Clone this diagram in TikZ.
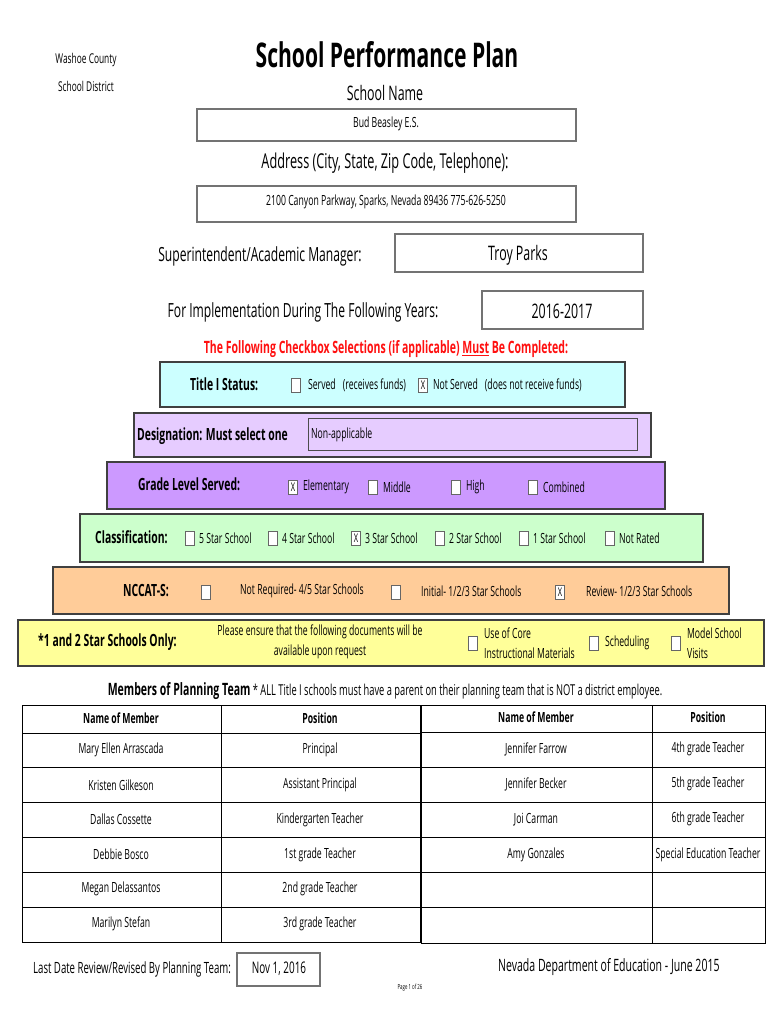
\documentclass[tikz,border=0pt]{standalone}
\usepackage{fontspec}
\setmainfont[FakeStretch=0.62]{Open Sans}
\usetikzlibrary{positioning}

\definecolor{bandcyan}{HTML}{CCFFFF}
\definecolor{bandlilac}{HTML}{E6CCFF}
\definecolor{bandpurple}{HTML}{CC99FF}
\definecolor{bandgreen}{HTML}{CCFFCC}
\definecolor{bandorange}{HTML}{FFCC99}
\definecolor{bandyellow}{HTML}{FFFF99}
\definecolor{formred}{HTML}{FF1010}

\newcommand{\fs}[1]{\fontsize{#1}{#1}\selectfont}

\tikzset{
  band/.style={draw=black!75, line width=1.3pt},
  field/.style={draw=black!55, line width=1.3pt, fill=white},
  chk/.style={draw=black!60, line width=0.8pt, fill=white, minimum width=9pt,
    minimum height=14pt, inner sep=0pt, font=\fs{12}},
  txt/.style={inner sep=0pt, font=\fs{14}},
  opt/.style={inner sep=0pt, anchor=west, font=\fs{14}},
  head/.style={inner sep=0pt, anchor=west, font=\bfseries\fs{16.8}},
  cell/.style={inner sep=0pt, font=\fs{14}},
  hcell/.style={inner sep=0pt, font=\bfseries\fs{14}},
  grid/.style={draw=black, line width=1pt}
}

\begin{document}
\begin{tikzpicture}[x=1pt, y=-1pt]
\useasboundingbox[fill=white] (0,0) rectangle (770,1024);

% heading
\node[txt, font=\fs{13.5}] (district1) at (86,60) {Washoe County};
\node[txt, font=\fs{13.5}] (district2) at (86,86) {School District};
\node[txt, font=\bfseries\fs{34}] (title) at (387,55) {School Performance Plan};
\node[txt, font=\fs{20}] (schoollbl) at (385,93) {School Name};
\draw[field] (197,109) rectangle (576,141);
\node[txt] (school) at (386,124) {Bud Beasley E.S.};
\node[txt, font=\fs{20.5}] (addrlbl) at (385,163) {Address (City, State, Zip Code, Telephone):};
\draw[field] (197,186) rectangle (576,222);
\node[txt] (addr) at (386,202) {2100 Canyon Parkway, Sparks, Nevada 89436 775-626-5250};
\node[txt, font=\fs{19.5}] (suplbl) at (260,256) {Superintendent/Academic Manager:};
\draw[field] (395,234) rectangle (643,272);
\node[txt, font=\fs{20}] (sup) at (518,255) {Troy Parks};
\node[txt, font=\fs{19.5}] (yearlbl) at (303,312) {For Implementation During The Following Years:};
\draw[field] (482,291) rectangle (643,329);
\node[txt, font=\fs{20}] (year) at (562,311) {2016-2017};
\node[txt, font=\bfseries\fs{17}, text=formred] (note) at (386,349)
  {The Following Checkbox Selections (if applicable) \underline{Must} Be Completed:};

% title I
\draw[band, fill=bandcyan] (160,362) rectangle (625,407);
\node[head] (titlei) at (190,384) {Title I Status:};
\node[chk] (ti1) at (296,385) {};
\node[opt, right=7pt of ti1] {Served\enspace(receives funds)};
\node[chk] (ti2) at (423,385) {X};
\node[opt, right=5pt of ti2] {Not Served\enspace(does not receive funds)};

% designation
\draw[band, fill=bandlilac] (134,413) rectangle (651,457);
\node[head] (desig) at (137,436) {Designation: Must select one};
\draw[draw=black!70, line width=1pt, fill=bandlilac] (308,418) rectangle (637,450);
\node[opt] (desigval) at (311,435) {Non-applicable};

% grade level
\draw[band, fill=bandpurple] (107,462) rectangle (665,509);
\node[head] (grade) at (138,484) {Grade Level Served:};
\foreach \gx/\gm/\gt in {293/X/Elementary, 373//Middle, 456//High, 533//Combined}{
  \node[chk] (g\gx) at (\gx,487) {\gm};
  \node[opt, right=5pt of g\gx] {\gt};
}

% classification
\draw[band, fill=bandgreen] (80,514) rectangle (703,562);
\node[head] (classif) at (95,537) {Classification:};
\foreach \cx/\cm/\ct in {190//5 Star School, 273//4 Star School, 356/X/3 Star School,
    440//2 Star School, 524//1 Star School, 610//Not Rated}{
  \node[chk] (c\cx) at (\cx,538) {\cm};
  \node[opt, right=4pt of c\cx] {\ct};
}

% nccat-s
\draw[band, fill=bandorange] (53,567) rectangle (729,614);
\node[head] (nccat) at (123,591) {NCCAT-S:};
\node[chk] (n1) at (206,592) {};
\node[opt] at (240,591) {Not Required- 4/5 Star Schools};
\node[chk] (n2) at (396,592) {};
\node[opt] at (421,591) {Initial- 1/2/3 Star Schools};
\node[chk] (n3) at (560,592) {X};
\node[opt] at (586,591) {Review- 1/2/3 Star Schools};

% 1 and 2 star
\draw[band, fill=bandyellow] (18,620) rectangle (764,666);
\node[head] (staronly) at (38,642) {*1 and 2 Star Schools Only:};
\node[txt, align=center] (ensure) at (320,642)
  {Please ensure that the following documents will be\\[6pt]available upon request};
\node[chk] (s1) at (473,643) {};
\node[opt, align=left, right=6pt of s1] {Use of Core\\[6pt]Instructional Materials};
\node[chk] (s2) at (594,643) {};
\node[opt, right=6pt of s2] {Scheduling};
\node[chk] (s3) at (676,643) {};
\node[opt, align=left, right=6pt of s3] {Model School\\[6pt]Visits};

% planning team
\node[txt, font=\fs{15}] (team) at (385,691)
  {{\bfseries\fs{17}Members of Planning Team} * ALL Title I schools must have a parent on their planning team that is NOT a district employee.};

\draw[grid] (22,705) rectangle (420,942);
\draw[grid] (221,705) -- (221,942);
\draw[grid] (22,733) -- (420,733);
\foreach \r in {1,...,5}
  \draw[grid] (22,{733+34.83*\r}) -- (420,{733+34.83*\r});
\node[hcell] (lh1) at (121,718) {Name of Member};
\node[hcell] (lh2) at (320,718) {Position};
\foreach \nm/\ps [count=\i] in {Mary Ellen Arrascada/Principal, Kristen Gilkeson/Assistant Principal,
    Dallas Cossette/Kindergarten Teacher, Debbie Bosco/1st grade Teacher,
    Megan Delassantos/2nd grade Teacher, Marilyn Stefan/3rd grade Teacher}{
  \node[cell] (ln\i) at (121,{733+34.83*(\i-1)+17}) {\nm};
  \node[cell] (lp\i) at (320,{733+34.83*(\i-1)+17}) {\ps};
}

\draw[grid] (421,705) rectangle (765,943);
\draw[grid] (652,705) -- (652,943);
\draw[grid] (421,732) -- (765,732);
\foreach \r in {1,...,5}
  \draw[grid] (421,{732+35.17*\r}) -- (765,{732+35.17*\r});
\node[hcell] (rh1) at (536,717) {Name of Member};
\node[hcell] (rh2) at (708,717) {Position};
\foreach \nm/\ps [count=\i] in {Jennifer Farrow/4th grade Teacher, Jennifer Becker/5th grade Teacher,
    Joi Carman/6th grade Teacher, Amy Gonzales/Special Education Teacher}{
  \node[cell] (rn\i) at (536,{732+35.17*(\i-1)+17}) {\nm};
  \node[cell] (rp\i) at (708,{732+35.17*(\i-1)+17}) {\ps};
}

% footer
\node[head, font=\fs{15.5}] (revlbl) at (33,969) {Last Date Review/Revised By Planning Team:};
\draw[field] (237,953) rectangle (320,986);
\node[txt, font=\fs{16}] (revdate) at (279,969) {Nov 1, 2016};
\node[head, font=\fs{17}] (nde) at (498,967) {Nevada Department of Education - June 2015};
\node[txt, font=\fs{7}] (page) at (410,988) {Page 1 of 26};
\end{tikzpicture}
\end{document}
